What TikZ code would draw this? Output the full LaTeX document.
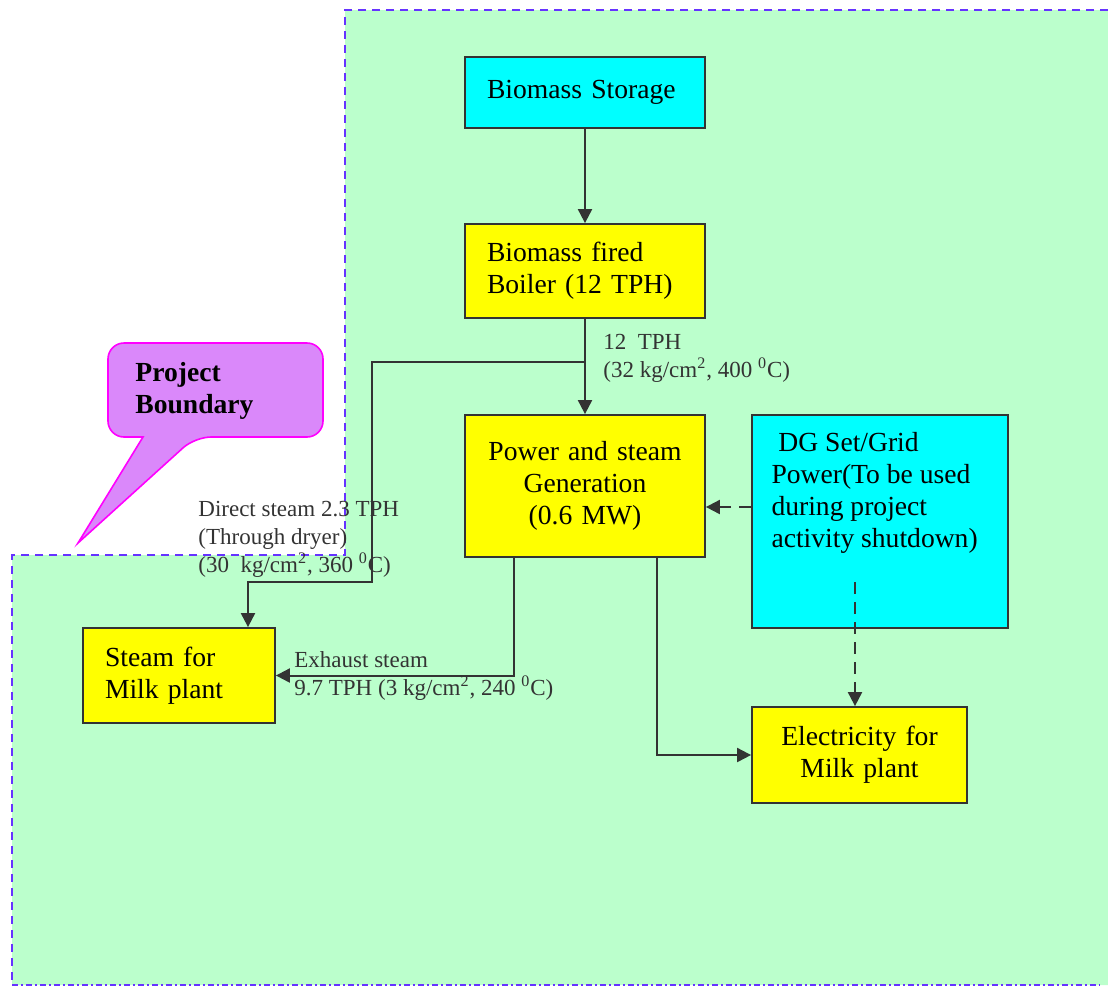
\documentclass[tikz,border=0pt]{standalone}
\usepackage{fontspec}
\setmainfont{Liberation Serif}
\usetikzlibrary{arrows.meta}
\definecolor{zonegreen}{RGB}{187,255,204}
\definecolor{bndblue}{RGB}{102,51,255}
\definecolor{calloutfill}{RGB}{218,136,250}
\definecolor{calloutline}{RGB}{255,0,255}
\definecolor{boxcyan}{RGB}{0,255,255}
\definecolor{boxyellow}{RGB}{255,255,0}
\definecolor{linegray}{RGB}{51,51,51}
\begin{document}
\begin{tikzpicture}[x=0.5pt,y=-0.5pt,
  box/.style={draw=linegray, line width=0.9pt, inner xsep=11pt, inner ysep=0pt, text=black, font=\fontsize{13.8}{16}\selectfont},
  cyanbox/.style={box, fill=boxcyan},
  yellowbox/.style={box, fill=boxyellow},
  flow/.style={draw=linegray, line width=1pt, -{Triangle[length=7pt,width=7pt]}},
  backup/.style={flow, dash pattern=on 6pt off 4pt},
  tag/.style={inner sep=0pt, align=left, anchor=west, text=linegray, font=\fontsize{11.5}{14}\selectfont}]
\useasboundingbox (0,0) rectangle (1108,987);
\def\zone{(345,10) -- (1108,10) -- (1108,985) -- (12,985) -- (12,555) -- (345,555) -- cycle}
\fill[zonegreen] \zone;
\draw[bndblue, line width=0.7pt, dash pattern=on 4pt off 3pt] (1108,10) -- (345,10) -- (345,555) -- (12,555) -- (12,985);
\draw[bndblue, line width=0.7pt, dash pattern=on 3pt off 1.5pt on 1pt off 1.5pt] (12,985) -- (1100,985);
% boundary callout
\draw[calloutline, fill=calloutfill, line width=0.8pt] (143,437) [rounded corners=8pt] -| (108,343) -| (323,437) -- (195,437) [sharp corners] -- (78,543) -- cycle;
\node[inner sep=0pt, align=left, anchor=west, font=\bfseries\fontsize{13.8}{16}\selectfont] (pb) at (135,391) {Project\\Boundary};
% boxes
\node[cyanbox, text width=98pt, minimum height=35.5pt, align=left] (store) at (585,92.5) {Biomass Storage};
\node[yellowbox, text width=98pt, minimum height=47pt, align=left] (boiler) at (585,271) {Biomass fired\\Boiler (12 TPH)};
\node[yellowbox, text width=98pt, minimum height=71pt, align=center] (power) at (585,486) {Power and steam\\Generation\\(0.6 MW)};
\node[yellowbox, text width=74pt, minimum height=47.5pt, align=left] (steam) at (179,675.5) {Steam for\\Milk plant};
\node[yellowbox, text width=85.5pt, minimum height=48pt, align=center] (elec) at (859.5,755) {Electricity for\\Milk plant};
\node[cyanbox, minimum width=128pt, minimum height=106.5pt,
  label={[anchor=north west, align=left, inner sep=0pt, xshift=10pt, yshift=-9pt, font=\fontsize{13.8}{16}\selectfont]north west:\ DG Set/Grid\\Power(To be used\\during project\\activity shutdown)}] (dg) at (880,521.5) {};
% flows
\coordinate (tap) at (585,362);
\draw[flow] (store) -- (boiler);
\draw[flow] (boiler) -- (power);
\draw[flow] (tap) -| (372,582) -| ([shift={(69,0)}]steam.north);
\draw[flow] ([shift={(-71,0)}]power.south) |- (steam.east);
\draw[flow] ([shift={(72,0)}]power.south) |- (elec.west);
\draw[backup] (dg.west |- 0,507) -- (power.east |- 0,507);
\draw[backup] ([shift={(-4.5,0)}]elec.north |- 0,582) -- ([shift={(-4.5,0)}]elec.north);
% flow labels
\node[tag] (mainsteam) at (603,358.5) {12\ \ TPH\\(32 kg/cm\textsuperscript{2}, 400 \textsuperscript{0}C)};
\node[tag] (directsteam) at (198,539) {Direct steam 2.3 TPH\\(Through dryer)\\(30\ \ kg/cm\textsuperscript{2}, 360 \textsuperscript{0}C)};
\node[tag] (exhaust) at (294,676) {Exhaust steam\\9.7 TPH (3 kg/cm\textsuperscript{2}, 240 \textsuperscript{0}C)};
\end{tikzpicture}
\end{document}
